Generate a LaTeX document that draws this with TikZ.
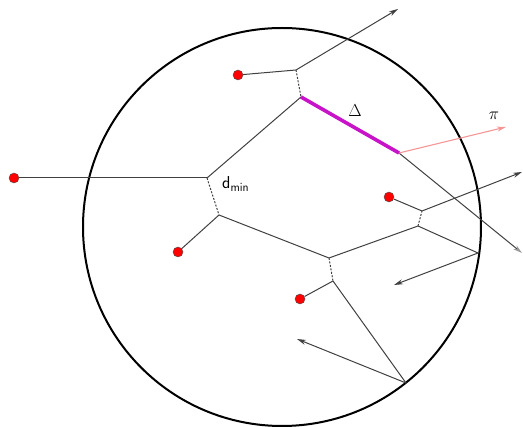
\documentclass[tikz,border=0pt]{standalone}
\usepackage{tikz}
\usetikzlibrary{arrows.meta}
\definecolor{deltamag}{RGB}{200,20,200}
\definecolor{pipink}{RGB}{245,150,150}

\begin{document}
\begin{tikzpicture}[x=1pt, y=-1pt,
      site/.style={circle, draw=black!70, fill=red, inner sep=0pt, minimum size=10pt},
      edge/.style={draw=black!75, line width=1pt},
      link/.style={edge, dash pattern=on 2pt off 1.5pt},
      ray/.style={edge, -{Stealth[length=9pt, width=5pt]}},
      lbl/.style={font=\sffamily\fontsize{17}{19}\selectfont, inner sep=0pt}
    ]
    \useasboundingbox (0,0) rectangle (523,427);
    \draw[line width=2pt] (282,227) circle[radius=199pt];
    % vertices of the diagram
    \coordinate (a) at (296,70);
    \coordinate (b) at (301,97);
    \coordinate (d) at (399,153);
    \coordinate (e) at (207,178);
    \coordinate (f) at (219,215);
    \coordinate (g) at (329,258);
    \coordinate (h) at (333,281);
    \coordinate (i) at (418,226);
    \coordinate (j) at (422,211);
    \coordinate (k) at (406,383);
    \coordinate (l) at (478,253);
    % free ends of the rays
    \coordinate (aout) at (398,9);
    \coordinate (dout) at (522,253);
    \coordinate (piout) at (506,127);
    \coordinate (jout) at (522,172);
    \coordinate (lout) at (394,285);
    \coordinate (kout) at (297,339);
    % sites
    \node[site] (s1) at (238,75) {};
    \node[site] (s2) at (14,178) {};
    \node[site] (s3) at (178,252) {};
    \node[site] (s4) at (300,299) {};
    \node[site] (s5) at (389,197) {};
    % edges
    \draw[edge] (b) -- (e);
    \draw[edge] (e) -- (s2);
    \draw[link] (a) -- (b);
    \draw[link] (e) -- (f);
    \draw[edge] (f) -- (g);
    \draw[link] (g) -- (h);
    \draw[edge] (h) -- (k);
    \draw[edge] (g) -- (i);
    \draw[link] (i) -- (j);
    \draw[edge] (i) -- (l);
    \draw[edge] (s1) -- (a);
    \draw[edge] (s3) -- (f);
    \draw[edge] (s4) -- (h);
    \draw[edge] (s5) -- (j);
    % rays
    \draw[ray] (a) -- (aout);
    \draw[edge, -{Stealth[length=9pt, width=5pt, color=black!40]}] (d) -- (dout);
    \draw[ray] (j) -- (jout);
    \draw[ray] (l) -- (lout);
    \draw[ray] (k) -- (kout);
    \draw[pipink, line width=1.1pt, -{Stealth[length=9pt, width=5pt]}] (d) -- (piout);
    \draw[deltamag, line width=3.6pt] (b) -- (d);
    % labels
    \node[lbl] (delta) at (355,111) {$\Delta$};
    \node[lbl] (pi) at (494,116) {$\pi$};
    \node[lbl, anchor=west] (dmin) at (222,184) {$\mathsf{d}_{\mathsf{min}}$};
  \end{tikzpicture}
\end{document}
